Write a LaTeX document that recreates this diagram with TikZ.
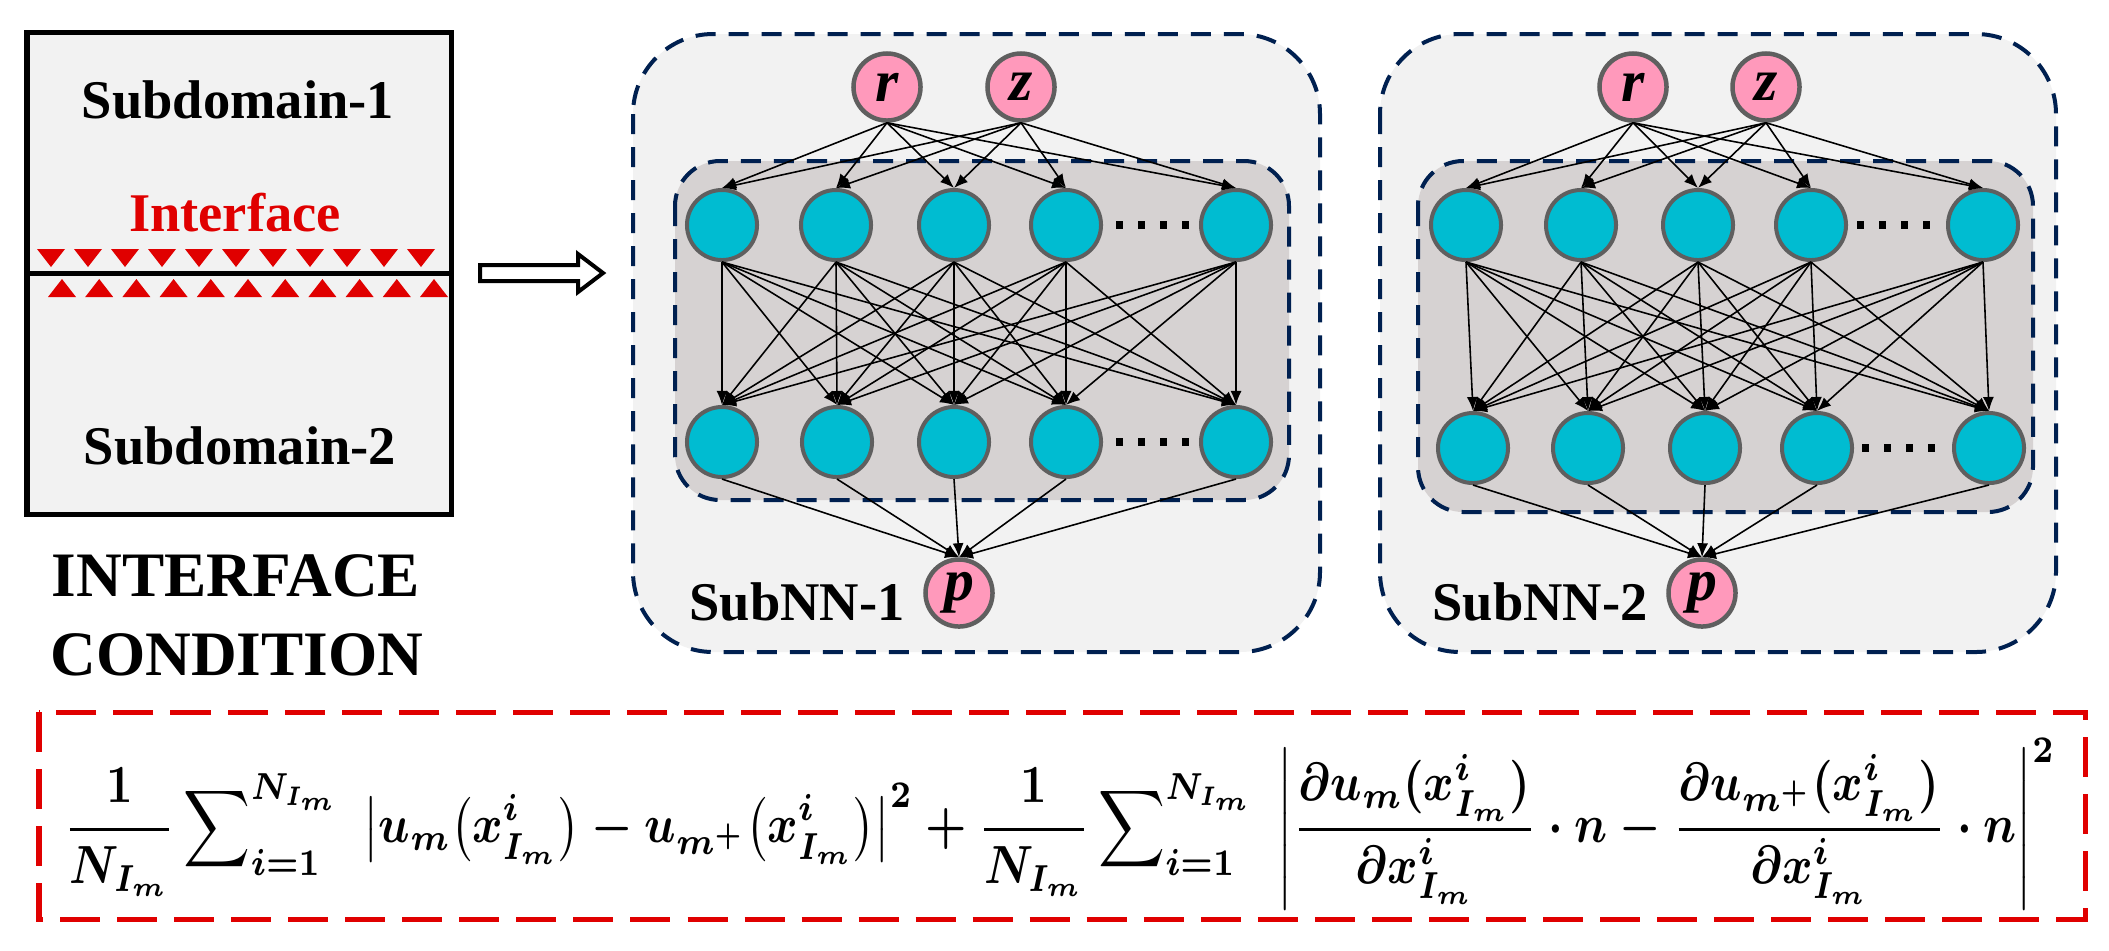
\documentclass[tikz,border=0pt]{standalone}
\usepackage{amsmath}
\usepackage{graphicx}
\usepackage[no-math]{fontspec}
\setmainfont{Liberation Serif}
\usetikzlibrary{arrows.meta}
\definecolor{navy}{HTML}{002050}
\definecolor{boxfill}{HTML}{F2F2F2}
\definecolor{innerfill}{HTML}{D6D2D2}
\definecolor{nncyan}{HTML}{00BCD1}
\definecolor{nnpink}{HTML}{FF99BB}
\definecolor{nodegray}{HTML}{5F5F5F}
\definecolor{ifred}{HTML}{E00000}
\tikzset{
  hid/.style={circle, draw=nodegray, line width=0.4mm, fill=nncyan, minimum size=7mm, inner sep=0pt},
  io/.style={circle, draw=nodegray, line width=0.45mm, fill=nnpink, minimum size=6.7mm, inner sep=0pt,
     font=\fontsize{17}{17}\selectfont\bfseries\itshape},
  conn/.style={-{Latex[length=1.4mm,width=1.1mm]}, line width=0.45pt, black},
  outerbox/.style={draw=navy, fill=boxfill, line width=0.4mm, dash pattern=on 2mm off 1.3mm, rounded corners=8mm},
  innerbox/.style={draw=navy, fill=innerfill, line width=0.4mm, dash pattern=on 2mm off 1.3mm, rounded corners=4.5mm},
  lbl/.style={font=\fontsize{15.5}{16}\selectfont\bfseries, inner sep=0pt},
  biglbl/.style={font=\fontsize{18}{19}\selectfont\bfseries, inner sep=0pt},
  dotsq/.style={fill=black},
  tri/.style={fill=ifred},
}
\begin{document}
\begin{tikzpicture}[x=0.01cm, y=-0.01cm]
\useasboundingbox (0,0) rectangle (2109,950);

% ---------------- left panel ----------------
\fill[boxfill] (27,32) rectangle (451,514);
\foreach \k in {0,...,10} {
  \fill[tri] ({51+37*\k-14},249) -- ({51+37*\k+14},249) -- ({51+37*\k},267) -- cycle;
  \fill[tri] ({62+37.2*\k-14},297) -- ({62+37.2*\k+14},297) -- ({62+37.2*\k},279) -- cycle;
}
\fill[white] (453,240) rectangle (470,310);
\draw[line width=0.5mm] (27,32) rectangle (451,514);
\draw[line width=0.5mm] (27,273) -- (451,273);
\node[lbl] (sd1) at (238,100) {Subdomain-1};
\node[lbl, text=ifred] (ifc) at (235,213) {Interface};
\node[lbl] (sd2) at (240,446) {Subdomain-2};
\node[biglbl] (ic1) at (236,576) {INTERFACE};
\node[biglbl] (ic2) at (237,655) {CONDITION};

% hollow arrow
\draw[line width=0.4mm, fill=white] (480,265) -- (578,265) -- (578,254) -- (603,273) -- (578,292) -- (578,281) -- (480,281) -- cycle;

% ---------------- SubNN-1 ----------------
\draw[outerbox] (633,34) rectangle (1320,652);
\draw[innerbox] (675,161) rectangle (1289,500);
\node[io] (r1) at (887,87) {r};
\node[io] (z1) at (1021,87) {z};
\node[io] (p1) at (959,593) {p};
\foreach \x [count=\i] in {722,836,954,1066,1236} {
  \node[hid] (a\i) at (\x,225) {};
}
\foreach \x [count=\i] in {722,837,954,1066,1236} {
  \node[hid] (b\i) at (\x,442) {};
}
\foreach \i in {1,...,5} {
  \draw[conn] (r1.south) -- (a\i.north);
  \draw[conn] (z1.south) -- (a\i.north);
  \draw[conn] (b\i.south) -- (p1.north);
  \foreach \j in {1,...,5} {
    \draw[conn] (a\i.south) -- (b\j.north);
  }
}
\foreach \k in {0,...,3} {
  \fill[dotsq] ({1116+22*\k},221) rectangle ({1123+22*\k},229);
  \fill[dotsq] ({1116+22*\k},438) rectangle ({1123+22*\k},446);
}
\node[lbl] (n1) at (797,602) {SubNN-1};

% ---------------- SubNN-2 ----------------
\draw[outerbox] (1380,34) rectangle (2056,652);
\draw[innerbox] (1418,161) rectangle (2033,512);
\node[io] (r2) at (1633,87) {r};
\node[io] (z2) at (1766,87) {z};
\node[io] (p2) at (1702,593) {p};
\foreach \x [count=\i] in {1466,1581,1698,1811,1983} {
  \node[hid] (c\i) at (\x,225) {};
}
\foreach \x [count=\i] in {1473,1588,1705,1817,1989} {
  \node[hid] (d\i) at (\x,448) {};
}
\foreach \i in {1,...,5} {
  \draw[conn] (r2.south) -- (c\i.north);
  \draw[conn] (z2.south) -- (c\i.north);
  \draw[conn] (d\i.south) -- (p2.north);
  \foreach \j in {1,...,5} {
    \draw[conn] (c\i.south) -- (d\j.north);
  }
}
\foreach \k in {0,...,3} {
  \fill[dotsq] ({1857+22*\k},221) rectangle ({1864+22*\k},229);
  \fill[dotsq] ({1862+22*\k},444) rectangle ({1869+22*\k},452);
}
\node[lbl] (n2) at (1540,602) {SubNN-2};

% ---------------- formula ----------------
\draw[draw=ifred, line width=0.5mm, dash pattern=on 4mm off 1.7mm] (39,712) rectangle (2085,919);
\node[font=\boldmath, inner sep=0pt] (formula) at (1060,824) {\resizebox*{19.9cm}{1.72cm}{$\displaystyle
 \frac{1}{N_{I_m}}\sum\nolimits_{i=1}^{N_{I_m}}\;\left|u_m\!\left(x^{i}_{I_m}\right)-u_{m^{+}}\!\left(x^{i}_{I_m}\right)\right|^{2}
 +\frac{1}{N_{I_m}}\sum\nolimits_{i=1}^{N_{I_m}}\;\left|\frac{\partial u_m(x^{i}_{I_m})}{\partial x^{i}_{I_m}}\cdot n-\frac{\partial u_{m^{+}}(x^{i}_{I_m})}{\partial x^{i}_{I_m}}\cdot n\right|^{2}$}};
\end{tikzpicture}
\end{document}
